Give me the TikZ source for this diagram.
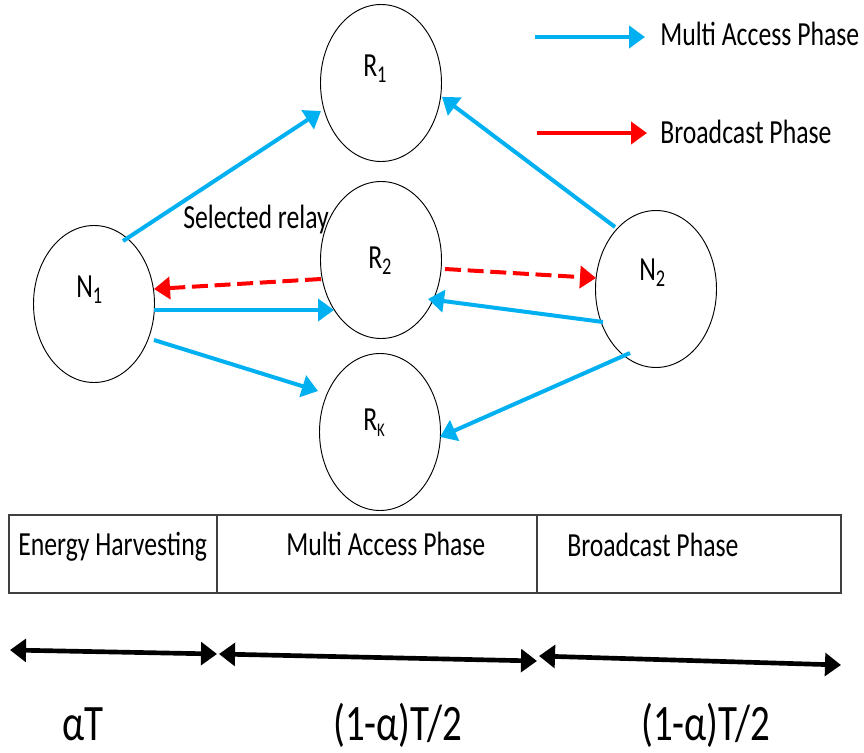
\documentclass[tikz,border=0pt]{standalone}
\usepackage{fontspec}
\setmainfont{Carlito}[FakeStretch=0.763]
\usetikzlibrary{shapes.geometric,arrows.meta,calc}
\definecolor{mablue}{RGB}{0,176,240}
\definecolor{bcred}{RGB}{255,0,0}
\newcommand{\sbs}[2]{\raisebox{-5.2pt}{\fontsize{#1}{#1}\selectfont #2}}
\tikzset{
  x=0.75pt, y=-0.75pt,
  nodeell/.style={ellipse, draw=black, line width=0.7pt, inner sep=0pt,
                  minimum width=90.75pt, minimum height=117.75pt},
  txt/.style={inner sep=0pt, anchor=base west, font=\fontsize{25.3pt}{30pt}\selectfont},
  bigtxt/.style={inner sep=0pt, anchor=base west, font=\fontsize{38.3pt}{45pt}\selectfont},
  maarrow/.style={draw=mablue, line width=3pt,
                  -{Triangle[length=12pt,width=16.5pt]}},
  bcarrow/.style={draw=bcred, line width=3pt, dash pattern=on 12pt off 5pt,
                  -{Triangle[length=12pt,width=16.5pt]}},
  timearrow/.style={draw=black, line width=3.5pt,
                  {Triangle[length=12pt,width=17pt]}-{Triangle[length=12pt,width=17pt]}},
  boxline/.style={draw=black!75, line width=1pt}
}
\begin{document}
\begin{tikzpicture}
\useasboundingbox (0,0) rectangle (864,753);

% nodes
\node[nodeell] (R1) at (381,83) {};
\node[nodeell] (R2) at (381,260) {};
\node[nodeell] (RK) at (380,432) {};
\node[nodeell] (N1) at (94,304) {};
\node[nodeell] (N2) at (656,289) {};

% node labels
\node[txt] (R1t) at (363,76) {R\sbs{18pt}{1}};
\node[txt] (R2t) at (368,268) {R\sbs{18pt}{2}};
\node[txt] (RKt) at (363,430) {R\sbs{14.5pt}{K}};
\node[txt] (N1t) at (76,297) {N\sbs{18pt}{1}};
\node[txt] (N2t) at (639,280) {N\sbs{18pt}{2}};

\node[txt] (sel) at (183,228) {Selected relay};

% multi access arrows
\draw[maarrow] ($(N1)+(29,-63)$) -- ($(R1)+(-60,28)$);
\draw[maarrow] ($(N1)+(60,6)$) -- ($(R2)+(-47,50)$);
\draw[maarrow] ($(N1)+(60,36)$) -- ($(RK)+(-62,-41)$);
\draw[maarrow] ($(N2)+(-41,-62)$) -- ($(R1)+(61,14)$);
\draw[maarrow] ($(N2)+(-53,33)$) -- ($(R2)+(47,39)$);
\draw[maarrow] ($(N2)+(-26,64)$) -- ($(RK)+(60,5)$);

% broadcast arrows
\draw[bcarrow] ($(R2)+(-60,19)$) -- ($(N1)+(60,-15)$);
\draw[bcarrow] ($(R2)+(64,9)$) -- ($(N2)+(-60,-11)$);

% legend
\coordinate (LB1) at (535,37);
\coordinate (LB2) at (645,37);
\coordinate (LR1) at (537,133);
\coordinate (LR2) at (647,133);
\draw[maarrow] (LB1) -- (LB2);
\draw[draw=bcred, line width=3pt, -{Triangle[length=12pt,width=16.5pt]}] (LR1) -- (LR2);
\node[txt] (legMA) at (660,45) {Multi Access Phase};
\node[txt] (legBC) at (660,143) {Broadcast Phase};

% time frame box
\draw[boxline] (9,515) rectangle (841,593);
\draw[draw=black!75, line width=0.8pt] (217,515) -- (217,593);
\draw[draw=black!75, line width=0.8pt] (537,515) -- (537,593);
\node[txt] (eh) at (18,555) {Energy Harvesting};
\node[txt] (map) at (286,555) {Multi Access Phase};
\node[txt] (bcp) at (567,556) {Broadcast Phase};

% time arrows
\coordinate (T0) at (10,650);
\coordinate (T1a) at (217,654);
\coordinate (T1b) at (219,654);
\coordinate (T2a) at (537,661);
\coordinate (T2b) at (539,656);
\coordinate (T3) at (841,665);
\draw[timearrow] (T0) -- (T1a);
\draw[timearrow] (T1b) -- (T2a);
\draw[timearrow] (T2b) -- (T3);

\node[bigtxt] (d1) at (62,740) {αT};
\node[bigtxt] (d2) at (333,740) {(1-α)T/2};
\node[bigtxt] (d3) at (641,740) {(1-α)T/2};
\end{tikzpicture}
\end{document}
